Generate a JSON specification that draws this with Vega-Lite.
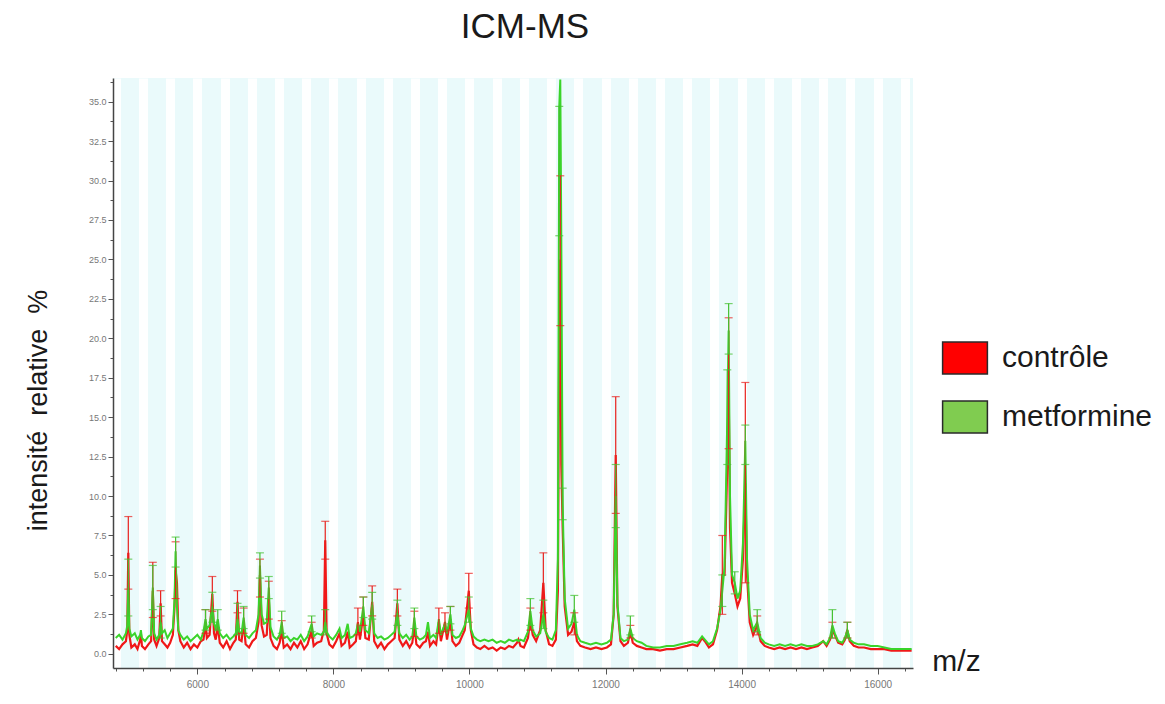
{
  "$schema": "https://vega.github.io/schema/vega-lite/v6.json",
  "width": 800,
  "height": 590,
  "autosize": "none",
  "padding": {"left": 113, "top": 78, "right": 252, "bottom": 36},
  "background": "white",
  "config": {"view": {"stroke": null, "fill": "#eafafb"}, "font": "Liberation Sans"},
  "title": {"text": "ICM-MS", "fontSize": 35, "font": "Liberation Sans", "fontWeight": "normal", "color": "#1a1a1a", "anchor": "middle", "frame": "group", "dx": 12, "offset": 5, "baseline": "alphabetic"},
  "datasets": {
    "controle": [
      {"mz":4800,"int":0.5},{"mz":4850,"int":0.3},{"mz":4900,"int":0.6},{"mz":4950,"int":0.8},{"mz":4970,"int":1.5},{"mz":4985,"int":6.4},{"mz":5000,"int":1.2},{"mz":5030,"int":0.4},{"mz":5080,"int":0.6},{"mz":5120,"int":0.3},{"mz":5160,"int":0.9},{"mz":5170,"int":1.3},{"mz":5185,"int":0.5},{"mz":5230,"int":0.3},{"mz":5280,"int":0.6},{"mz":5320,"int":0.8},{"mz":5345,"int":4.0},{"mz":5365,"int":0.9},{"mz":5400,"int":0.5},{"mz":5440,"int":1.0},{"mz":5460,"int":3.2},{"mz":5480,"int":0.8},{"mz":5520,"int":0.6},{"mz":5560,"int":0.4},{"mz":5600,"int":0.7},{"mz":5640,"int":1.2},{"mz":5665,"int":3.0},{"mz":5680,"int":5.3},{"mz":5700,"int":4.5},{"mz":5720,"int":1.5},{"mz":5750,"int":0.8},{"mz":5800,"int":0.4},{"mz":5850,"int":0.7},{"mz":5900,"int":0.3},{"mz":5950,"int":0.6},{"mz":6000,"int":0.4},{"mz":6050,"int":0.8},{"mz":6090,"int":0.9},{"mz":6120,"int":2.0},{"mz":6140,"int":1.0},{"mz":6180,"int":1.2},{"mz":6220,"int":3.8},{"mz":6245,"int":1.3},{"mz":6270,"int":0.9},{"mz":6300,"int":1.8},{"mz":6330,"int":0.7},{"mz":6380,"int":0.4},{"mz":6430,"int":0.8},{"mz":6480,"int":0.3},{"mz":6530,"int":0.7},{"mz":6565,"int":0.9},{"mz":6590,"int":3.3},{"mz":6615,"int":0.9},{"mz":6650,"int":0.8},{"mz":6680,"int":2.0},{"mz":6710,"int":0.6},{"mz":6760,"int":0.4},{"mz":6810,"int":0.8},{"mz":6860,"int":1.0},{"mz":6900,"int":2.0},{"mz":6920,"int":5.0},{"mz":6945,"int":1.8},{"mz":6980,"int":1.1},{"mz":7020,"int":1.2},{"mz":7050,"int":3.5},{"mz":7075,"int":1.0},{"mz":7120,"int":0.5},{"mz":7170,"int":0.3},{"mz":7210,"int":0.7},{"mz":7240,"int":1.5},{"mz":7270,"int":0.4},{"mz":7320,"int":0.6},{"mz":7370,"int":0.3},{"mz":7420,"int":0.7},{"mz":7470,"int":0.4},{"mz":7520,"int":0.8},{"mz":7570,"int":0.3},{"mz":7620,"int":0.6},{"mz":7680,"int":1.5},{"mz":7710,"int":0.5},{"mz":7760,"int":0.7},{"mz":7820,"int":0.8},{"mz":7860,"int":1.5},{"mz":7880,"int":7.2},{"mz":7900,"int":1.3},{"mz":7940,"int":0.6},{"mz":7990,"int":0.4},{"mz":8040,"int":0.8},{"mz":8090,"int":1.3},{"mz":8120,"int":0.5},{"mz":8170,"int":0.7},{"mz":8210,"int":1.4},{"mz":8240,"int":0.4},{"mz":8290,"int":0.6},{"mz":8330,"int":0.8},{"mz":8360,"int":2.0},{"mz":8390,"int":0.9},{"mz":8440,"int":2.5},{"mz":8470,"int":1.0},{"mz":8520,"int":0.9},{"mz":8570,"int":3.3},{"mz":8600,"int":0.8},{"mz":8650,"int":0.4},{"mz":8700,"int":0.7},{"mz":8750,"int":0.3},{"mz":8800,"int":0.6},{"mz":8850,"int":0.8},{"mz":8900,"int":1.0},{"mz":8940,"int":3.2},{"mz":8970,"int":0.9},{"mz":9020,"int":0.5},{"mz":9070,"int":0.8},{"mz":9120,"int":0.4},{"mz":9160,"int":0.7},{"mz":9190,"int":1.8},{"mz":9220,"int":0.6},{"mz":9270,"int":0.4},{"mz":9320,"int":0.7},{"mz":9360,"int":0.8},{"mz":9390,"int":1.4},{"mz":9420,"int":0.5},{"mz":9470,"int":0.8},{"mz":9510,"int":0.6},{"mz":9550,"int":2.0},{"mz":9580,"int":0.8},{"mz":9640,"int":2.0},{"mz":9670,"int":0.9},{"mz":9720,"int":2.2},{"mz":9750,"int":0.8},{"mz":9800,"int":0.5},{"mz":9850,"int":0.7},{"mz":9900,"int":1.2},{"mz":9930,"int":1.5},{"mz":9990,"int":4.0},{"mz":10020,"int":1.5},{"mz":10060,"int":0.6},{"mz":10110,"int":0.4},{"mz":10160,"int":0.3},{"mz":10220,"int":0.5},{"mz":10280,"int":0.3},{"mz":10340,"int":0.4},{"mz":10400,"int":0.2},{"mz":10460,"int":0.4},{"mz":10520,"int":0.3},{"mz":10580,"int":0.5},{"mz":10640,"int":0.4},{"mz":10700,"int":0.7},{"mz":10720,"int":0.9},{"mz":10750,"int":0.5},{"mz":10800,"int":0.4},{"mz":10860,"int":1.0},{"mz":10895,"int":2.2},{"mz":10930,"int":1.2},{"mz":10980,"int":0.8},{"mz":11040,"int":1.5},{"mz":11086,"int":4.5},{"mz":11120,"int":1.5},{"mz":11170,"int":0.6},{"mz":11220,"int":0.5},{"mz":11270,"int":0.9},{"mz":11300,"int":4.0},{"mz":11320,"int":20.8},{"mz":11335,"int":25.0},{"mz":11350,"int":12.0},{"mz":11370,"int":8.0},{"mz":11400,"int":3.0},{"mz":11450,"int":1.2},{"mz":11500,"int":1.4},{"mz":11541,"int":2.0},{"mz":11580,"int":0.8},{"mz":11630,"int":0.5},{"mz":11700,"int":0.4},{"mz":11780,"int":0.3},{"mz":11860,"int":0.4},{"mz":11940,"int":0.3},{"mz":12020,"int":0.4},{"mz":12080,"int":0.6},{"mz":12120,"int":2.5},{"mz":12150,"int":12.6},{"mz":12175,"int":3.0},{"mz":12220,"int":0.8},{"mz":12270,"int":0.5},{"mz":12330,"int":0.7},{"mz":12365,"int":1.5},{"mz":12400,"int":0.7},{"mz":12460,"int":0.5},{"mz":12530,"int":0.4},{"mz":12600,"int":0.3},{"mz":12700,"int":0.3},{"mz":12800,"int":0.2},{"mz":12900,"int":0.3},{"mz":13000,"int":0.3},{"mz":13100,"int":0.4},{"mz":13200,"int":0.5},{"mz":13280,"int":0.6},{"mz":13350,"int":0.5},{"mz":13420,"int":1.0},{"mz":13460,"int":0.8},{"mz":13520,"int":0.4},{"mz":13580,"int":0.6},{"mz":13640,"int":1.5},{"mz":13690,"int":3.0},{"mz":13717,"int":5.0},{"mz":13750,"int":5.0},{"mz":13790,"int":12.0},{"mz":13810,"int":17.0},{"mz":13830,"int":8.0},{"mz":13860,"int":4.5},{"mz":13900,"int":3.8},{"mz":13940,"int":3.0},{"mz":13980,"int":3.5},{"mz":14020,"int":6.0},{"mz":14055,"int":10.8},{"mz":14080,"int":5.0},{"mz":14120,"int":2.0},{"mz":14170,"int":1.2},{"mz":14230,"int":1.8},{"mz":14280,"int":0.8},{"mz":14340,"int":0.5},{"mz":14400,"int":0.4},{"mz":14480,"int":0.3},{"mz":14560,"int":0.4},{"mz":14640,"int":0.3},{"mz":14720,"int":0.4},{"mz":14800,"int":0.3},{"mz":14880,"int":0.4},{"mz":14960,"int":0.3},{"mz":15040,"int":0.4},{"mz":15120,"int":0.5},{"mz":15200,"int":0.8},{"mz":15250,"int":0.5},{"mz":15300,"int":0.9},{"mz":15335,"int":1.5},{"mz":15370,"int":1.2},{"mz":15420,"int":0.7},{"mz":15480,"int":0.6},{"mz":15520,"int":0.9},{"mz":15555,"int":1.5},{"mz":15590,"int":0.8},{"mz":15650,"int":0.5},{"mz":15720,"int":0.4},{"mz":15800,"int":0.4},{"mz":15900,"int":0.3},{"mz":16000,"int":0.3},{"mz":16100,"int":0.3},{"mz":16200,"int":0.2},{"mz":16300,"int":0.2},{"mz":16400,"int":0.2},{"mz":16500,"int":0.2}
    ],
    "metformine": [
      {"mz":4800,"int":1.0},{"mz":4850,"int":1.2},{"mz":4900,"int":0.9},{"mz":4950,"int":1.3},{"mz":4970,"int":1.8},{"mz":4985,"int":4.2},{"mz":5000,"int":1.6},{"mz":5030,"int":1.1},{"mz":5080,"int":1.3},{"mz":5120,"int":0.9},{"mz":5160,"int":1.2},{"mz":5170,"int":1.5},{"mz":5185,"int":1.0},{"mz":5230,"int":0.8},{"mz":5280,"int":1.1},{"mz":5320,"int":1.2},{"mz":5345,"int":4.2},{"mz":5365,"int":1.3},{"mz":5400,"int":0.9},{"mz":5440,"int":1.2},{"mz":5460,"int":2.0},{"mz":5480,"int":1.3},{"mz":5520,"int":1.5},{"mz":5560,"int":1.0},{"mz":5600,"int":1.3},{"mz":5640,"int":1.6},{"mz":5665,"int":3.5},{"mz":5680,"int":6.5},{"mz":5700,"int":3.0},{"mz":5720,"int":1.5},{"mz":5750,"int":1.2},{"mz":5800,"int":0.9},{"mz":5850,"int":1.1},{"mz":5900,"int":0.8},{"mz":5950,"int":1.0},{"mz":6000,"int":1.2},{"mz":6050,"int":0.9},{"mz":6090,"int":1.4},{"mz":6120,"int":2.2},{"mz":6140,"int":1.6},{"mz":6180,"int":1.8},{"mz":6220,"int":3.0},{"mz":6245,"int":1.9},{"mz":6270,"int":1.6},{"mz":6300,"int":2.2},{"mz":6330,"int":1.3},{"mz":6380,"int":1.0},{"mz":6430,"int":1.2},{"mz":6480,"int":0.9},{"mz":6530,"int":1.1},{"mz":6565,"int":1.3},{"mz":6590,"int":2.2},{"mz":6615,"int":1.4},{"mz":6650,"int":1.3},{"mz":6680,"int":2.3},{"mz":6710,"int":1.2},{"mz":6760,"int":1.0},{"mz":6810,"int":1.3},{"mz":6860,"int":1.5},{"mz":6900,"int":2.5},{"mz":6920,"int":5.6},{"mz":6945,"int":2.5},{"mz":6980,"int":1.9},{"mz":7020,"int":2.0},{"mz":7050,"int":4.2},{"mz":7075,"int":1.7},{"mz":7120,"int":1.1},{"mz":7170,"int":0.9},{"mz":7210,"int":1.2},{"mz":7240,"int":2.0},{"mz":7270,"int":1.0},{"mz":7320,"int":1.1},{"mz":7370,"int":0.8},{"mz":7420,"int":1.0},{"mz":7470,"int":0.9},{"mz":7520,"int":1.2},{"mz":7570,"int":0.8},{"mz":7620,"int":1.1},{"mz":7680,"int":1.9},{"mz":7710,"int":1.1},{"mz":7760,"int":1.3},{"mz":7820,"int":1.2},{"mz":7860,"int":1.4},{"mz":7880,"int":2.0},{"mz":7900,"int":1.4},{"mz":7940,"int":1.1},{"mz":7990,"int":0.9},{"mz":8040,"int":1.2},{"mz":8090,"int":1.6},{"mz":8120,"int":1.0},{"mz":8170,"int":1.2},{"mz":8210,"int":1.9},{"mz":8240,"int":1.0},{"mz":8290,"int":1.1},{"mz":8330,"int":1.3},{"mz":8360,"int":1.9},{"mz":8390,"int":1.4},{"mz":8440,"int":3.0},{"mz":8470,"int":1.5},{"mz":8520,"int":1.3},{"mz":8570,"int":3.1},{"mz":8600,"int":1.3},{"mz":8650,"int":1.0},{"mz":8700,"int":1.1},{"mz":8750,"int":0.9},{"mz":8800,"int":1.0},{"mz":8850,"int":1.2},{"mz":8900,"int":1.4},{"mz":8940,"int":2.6},{"mz":8970,"int":1.3},{"mz":9020,"int":1.0},{"mz":9070,"int":1.2},{"mz":9120,"int":0.9},{"mz":9160,"int":1.1},{"mz":9190,"int":2.3},{"mz":9220,"int":1.1},{"mz":9270,"int":0.9},{"mz":9320,"int":1.0},{"mz":9360,"int":1.2},{"mz":9390,"int":2.0},{"mz":9420,"int":1.0},{"mz":9470,"int":1.2},{"mz":9510,"int":1.0},{"mz":9550,"int":2.2},{"mz":9580,"int":1.2},{"mz":9640,"int":1.9},{"mz":9670,"int":1.3},{"mz":9720,"int":2.5},{"mz":9750,"int":1.2},{"mz":9800,"int":1.0},{"mz":9850,"int":1.1},{"mz":9900,"int":1.5},{"mz":9930,"int":1.8},{"mz":9990,"int":2.8},{"mz":10020,"int":1.6},{"mz":10060,"int":1.1},{"mz":10110,"int":0.9},{"mz":10160,"int":0.8},{"mz":10220,"int":0.9},{"mz":10280,"int":0.8},{"mz":10340,"int":0.9},{"mz":10400,"int":0.7},{"mz":10460,"int":0.8},{"mz":10520,"int":0.7},{"mz":10580,"int":0.9},{"mz":10640,"int":0.8},{"mz":10700,"int":0.9},{"mz":10720,"int":0.8},{"mz":10750,"int":0.9},{"mz":10800,"int":0.8},{"mz":10860,"int":1.4},{"mz":10895,"int":2.7},{"mz":10930,"int":1.5},{"mz":10980,"int":1.1},{"mz":11040,"int":1.3},{"mz":11086,"int":2.5},{"mz":11120,"int":1.4},{"mz":11170,"int":1.0},{"mz":11220,"int":0.9},{"mz":11270,"int":1.5},{"mz":11300,"int":6.0},{"mz":11320,"int":34.7},{"mz":11335,"int":36.4},{"mz":11350,"int":26.5},{"mz":11370,"int":9.5},{"mz":11400,"int":3.5},{"mz":11450,"int":1.6},{"mz":11500,"int":1.9},{"mz":11541,"int":2.8},{"mz":11580,"int":1.2},{"mz":11630,"int":0.8},{"mz":11700,"int":0.7},{"mz":11780,"int":0.6},{"mz":11860,"int":0.7},{"mz":11940,"int":0.6},{"mz":12020,"int":0.7},{"mz":12080,"int":0.9},{"mz":12120,"int":2.5},{"mz":12150,"int":10.0},{"mz":12175,"int":3.2},{"mz":12220,"int":1.0},{"mz":12270,"int":0.8},{"mz":12330,"int":0.9},{"mz":12365,"int":1.6},{"mz":12400,"int":1.0},{"mz":12460,"int":0.8},{"mz":12530,"int":0.7},{"mz":12600,"int":0.5},{"mz":12700,"int":0.4},{"mz":12800,"int":0.4},{"mz":12900,"int":0.5},{"mz":13000,"int":0.5},{"mz":13100,"int":0.6},{"mz":13200,"int":0.7},{"mz":13280,"int":0.8},{"mz":13350,"int":0.7},{"mz":13420,"int":1.1},{"mz":13460,"int":0.9},{"mz":13520,"int":0.6},{"mz":13580,"int":0.8},{"mz":13640,"int":1.6},{"mz":13690,"int":2.8},{"mz":13717,"int":4.0},{"mz":13750,"int":5.5},{"mz":13790,"int":15.0},{"mz":13810,"int":20.5},{"mz":13830,"int":10.0},{"mz":13860,"int":5.0},{"mz":13900,"int":4.5},{"mz":13940,"int":3.5},{"mz":13980,"int":4.0},{"mz":14020,"int":7.0},{"mz":14055,"int":13.5},{"mz":14080,"int":6.0},{"mz":14120,"int":2.5},{"mz":14170,"int":1.5},{"mz":14230,"int":2.0},{"mz":14280,"int":1.0},{"mz":14340,"int":0.7},{"mz":14400,"int":0.6},{"mz":14480,"int":0.5},{"mz":14560,"int":0.6},{"mz":14640,"int":0.5},{"mz":14720,"int":0.6},{"mz":14800,"int":0.5},{"mz":14880,"int":0.6},{"mz":14960,"int":0.5},{"mz":15040,"int":0.5},{"mz":15120,"int":0.6},{"mz":15200,"int":0.8},{"mz":15250,"int":0.6},{"mz":15300,"int":1.0},{"mz":15335,"int":1.8},{"mz":15370,"int":1.3},{"mz":15420,"int":0.8},{"mz":15480,"int":0.7},{"mz":15520,"int":1.0},{"mz":15555,"int":1.5},{"mz":15590,"int":0.9},{"mz":15650,"int":0.7},{"mz":15720,"int":0.6},{"mz":15800,"int":0.6},{"mz":15900,"int":0.5},{"mz":16000,"int":0.5},{"mz":16100,"int":0.4},{"mz":16200,"int":0.3},{"mz":16300,"int":0.3},{"mz":16400,"int":0.3},{"mz":16500,"int":0.3}
    ],
    "erreurs": [
      {"serie":"contrôle","mz":4985,"lo":4.1,"hi":8.7},{"serie":"contrôle","mz":5345,"lo":2.3,"hi":5.8},{"serie":"contrôle","mz":5460,"lo":2.4,"hi":4.0},{"serie":"contrôle","mz":5680,"lo":3.5,"hi":7.1},{"serie":"contrôle","mz":6120,"lo":1.3,"hi":2.8},{"serie":"contrôle","mz":6220,"lo":2.7,"hi":4.9},{"serie":"contrôle","mz":6590,"lo":2.6,"hi":4.0},{"serie":"contrôle","mz":6680,"lo":1.3,"hi":2.9},{"serie":"contrôle","mz":6920,"lo":3.6,"hi":6.0},{"serie":"contrôle","mz":7050,"lo":2.2,"hi":4.6},{"serie":"contrôle","mz":7240,"lo":1.0,"hi":2.1},{"serie":"contrôle","mz":7680,"lo":1.0,"hi":2.0},{"serie":"contrôle","mz":7880,"lo":6.0,"hi":8.4},{"serie":"contrôle","mz":8360,"lo":1.2,"hi":2.9},{"serie":"contrôle","mz":8440,"lo":1.8,"hi":3.6},{"serie":"contrôle","mz":8570,"lo":2.4,"hi":4.3},{"serie":"contrôle","mz":8940,"lo":2.4,"hi":4.1},{"serie":"contrôle","mz":9190,"lo":1.1,"hi":2.7},{"serie":"contrôle","mz":9550,"lo":1.3,"hi":2.9},{"serie":"contrôle","mz":9640,"lo":1.4,"hi":2.6},{"serie":"contrôle","mz":9720,"lo":1.5,"hi":3.0},{"serie":"contrôle","mz":9990,"lo":2.9,"hi":5.1},{"serie":"contrôle","mz":10895,"lo":1.5,"hi":2.9},{"serie":"contrôle","mz":11086,"lo":2.6,"hi":6.4},{"serie":"contrôle","mz":11335,"lo":20.8,"hi":30.3},{"serie":"contrôle","mz":11541,"lo":1.2,"hi":2.6},{"serie":"contrôle","mz":12150,"lo":8.9,"hi":16.3},{"serie":"contrôle","mz":12365,"lo":1.0,"hi":1.8},{"serie":"contrôle","mz":13717,"lo":2.5,"hi":7.5},{"serie":"contrôle","mz":13810,"lo":13.0,"hi":21.3},{"serie":"contrôle","mz":14055,"lo":4.5,"hi":17.2},{"serie":"contrôle","mz":14230,"lo":1.2,"hi":2.4},{"serie":"contrôle","mz":15335,"lo":1.0,"hi":2.0},{"serie":"contrôle","mz":15555,"lo":1.0,"hi":2.0},
      {"serie":"metformine","mz":4985,"lo":2.4,"hi":6.0},{"serie":"metformine","mz":5345,"lo":2.8,"hi":5.6},{"serie":"metformine","mz":5460,"lo":1.0,"hi":3.0},{"serie":"metformine","mz":5680,"lo":5.5,"hi":7.4},{"serie":"metformine","mz":6120,"lo":1.5,"hi":2.8},{"serie":"metformine","mz":6220,"lo":2.0,"hi":3.9},{"serie":"metformine","mz":6300,"lo":1.5,"hi":2.8},{"serie":"metformine","mz":6590,"lo":1.2,"hi":3.2},{"serie":"metformine","mz":6680,"lo":1.6,"hi":3.0},{"serie":"metformine","mz":6920,"lo":4.8,"hi":6.4},{"serie":"metformine","mz":7050,"lo":3.5,"hi":4.9},{"serie":"metformine","mz":7240,"lo":1.3,"hi":2.7},{"serie":"metformine","mz":7680,"lo":1.4,"hi":2.4},{"serie":"metformine","mz":7880,"lo":1.2,"hi":2.8},{"serie":"metformine","mz":8440,"lo":2.3,"hi":3.6},{"serie":"metformine","mz":8570,"lo":2.2,"hi":3.9},{"serie":"metformine","mz":8940,"lo":1.8,"hi":3.4},{"serie":"metformine","mz":9190,"lo":1.6,"hi":2.9},{"serie":"metformine","mz":9720,"lo":1.9,"hi":3.0},{"serie":"metformine","mz":9990,"lo":2.0,"hi":3.6},{"serie":"metformine","mz":10895,"lo":1.8,"hi":3.5},{"serie":"metformine","mz":11086,"lo":1.6,"hi":3.4},{"serie":"metformine","mz":11320,"lo":26.5,"hi":34.7},{"serie":"metformine","mz":11370,"lo":8.5,"hi":10.5},{"serie":"metformine","mz":11541,"lo":2.0,"hi":3.7},{"serie":"metformine","mz":12150,"lo":8.0,"hi":12.0},{"serie":"metformine","mz":12365,"lo":1.2,"hi":2.4},{"serie":"metformine","mz":13717,"lo":3.0,"hi":5.0},{"serie":"metformine","mz":13790,"lo":12.0,"hi":18.0},{"serie":"metformine","mz":13810,"lo":19.0,"hi":22.2},{"serie":"metformine","mz":13900,"lo":3.8,"hi":5.2},{"serie":"metformine","mz":14055,"lo":12.0,"hi":14.5},{"serie":"metformine","mz":14230,"lo":1.4,"hi":2.8},{"serie":"metformine","mz":15335,"lo":1.0,"hi":2.8},{"serie":"metformine","mz":15555,"lo":1.0,"hi":2.0}
    ]
  },
  "layer": [
    {
      "data": {"name": "controle"},
      "mark": {"type": "line", "strokeWidth": 2.2, "clip": true, "color": "#f01818"},
      "encoding": {
        "x": {
          "field": "mz", "type": "quantitative", "title": "m/z",
          "scale": {"domain": [4760, 16520], "nice": false, "zero": false},
          "axis": {
            "title": "m/z", "titleFontSize": 30, "titleFont": "Liberation Sans", "titleFontWeight": "normal", "titleColor": "#1a1a1a",
            "titleX": 843, "titleY": 2, "titleBaseline": "alphabetic", "titleAlign": "center",
            "values": [4800,5200,5600,6000,6400,6800,7200,7600,8000,8400,8800,9200,9600,10000,10400,10800,11200,11600,12000,12400,12800,13200,13600,14000,14400,14800,15200,15600,16000,16400],
            "tickCount": 200,
            "labelExpr": "datum.value % 2000 === 0 ? format(datum.value, 'd') : ''",
            "labelFontSize": 10, "labelColor": "#777", "labelPadding": 5, "labelFlush": false, "labelOverlap": false,
            "tickSize": {"condition": {"test": "datum.value % 2000 === 0", "value": 6}, "value": 3},
            "tickColor": "#555", "domainColor": "#444", "domainWidth": 1.5,
            "grid": true, "gridColor": "#ffffff", "gridWidth": 9, "gridOpacity": 0.95
          }
        },
        "y": {
          "field": "int", "type": "quantitative", "title": "intensité\u00a0\u00a0relative\u00a0\u00a0%",
          "scale": {"domain": [-0.9, 36.5], "nice": false, "zero": false},
          "axis": {
            "title": "intensité\u00a0\u00a0relative\u00a0\u00a0%", "titleFontSize": 27, "titleFont": "Liberation Sans", "titleFontWeight": "normal", "titleColor": "#1a1a1a",
            "titleX": -75, "titleY": 332, "titleAngle": -90, "titleBaseline": "middle", "titleAlign": "center",
            "values": [0,1.25,2.5,3.75,5,6.25,7.5,8.75,10,11.25,12.5,13.75,15,16.25,17.5,18.75,20,21.25,22.5,23.75,25,26.25,27.5,28.75,30,31.25,32.5,33.75,35,36.25],
            "tickCount": 200,
            "labelExpr": "datum.value % 2.5 === 0 ? format(datum.value, '.1f') : ''",
            "labelFontSize": 9, "labelColor": "#777", "labelPadding": 2, "labelOverlap": false,
            "tickSize": {"condition": {"test": "datum.value % 2.5 === 0", "value": 5}, "value": 3},
            "tickColor": "#555", "domainColor": "#444", "domainWidth": 1.5, "grid": false
          }
        }
      }
    },
    {
      "data": {"name": "metformine"},
      "mark": {"type": "line", "strokeWidth": 2, "clip": true, "color": "#3ad42a"},
      "encoding": {
        "x": {"field": "mz", "type": "quantitative", "title": "m/z"},
        "y": {"field": "int", "type": "quantitative", "title": "intensité\u00a0\u00a0relative\u00a0\u00a0%"}
      }
    },
    {
      "data": {"name": "erreurs"},
      "transform": [{"filter": "datum.serie === 'contrôle'"}],
      "mark": {"type": "errorbar", "ticks": true, "size": 8, "thickness": 1.2, "clip": true, "color": "#e8201c"},
      "encoding": {
        "x": {"field": "mz", "type": "quantitative", "title": "m/z"},
        "y": {"field": "lo", "type": "quantitative", "title": "intensité\u00a0\u00a0relative\u00a0\u00a0%"},
        "y2": {"field": "hi"}
      }
    },
    {
      "data": {"name": "erreurs"},
      "transform": [{"filter": "datum.serie === 'metformine'"}],
      "mark": {"type": "errorbar", "ticks": true, "size": 8, "thickness": 1.2, "clip": true, "color": "#44c030"},
      "encoding": {
        "x": {"field": "mz", "type": "quantitative", "title": "m/z"},
        "y": {"field": "lo", "type": "quantitative", "title": "intensité\u00a0\u00a0relative\u00a0\u00a0%"},
        "y2": {"field": "hi"}
      }
    },
    {
      "data": {"name": "erreurs"},
      "mark": {"type": "square", "filled": true, "opacity": 0},
      "encoding": {
        "x": {"field": "mz", "type": "quantitative", "title": "m/z"},
        "y": {"field": "hi", "type": "quantitative", "title": "intensité\u00a0\u00a0relative\u00a0\u00a0%"},
        "color": {
          "field": "serie", "type": "nominal", "title": null,
          "scale": {"domain": ["contrôle", "metformine"], "range": ["#ff0000", "#80cc50"]},
          "legend": {
            "orient": "none", "legendX": 835, "legendY": 263, "title": null, "padding": 0,
            "symbolType": "M-1.4,-1H1.4V1H-1.4Z", "symbolSize": 1024, "symbolOpacity": 1,
            "symbolStrokeColor": "#2a2a2a", "symbolStrokeWidth": 1.5,
            "labelFontSize": 30, "labelFont": "Liberation Sans", "labelColor": "#1a1a1a", "labelOffset": 20, "rowPadding": 21,
            "encode": {
              "symbols": {
                "update": {
                  "opacity": {"value": 1},
                  "fillOpacity": {"value": 1},
                  "stroke": {"value": "#2a2a2a"},
                  "strokeWidth": {"value": 1.5}
                }
              }
            }
          }
        }
      }
    }
  ]
}
